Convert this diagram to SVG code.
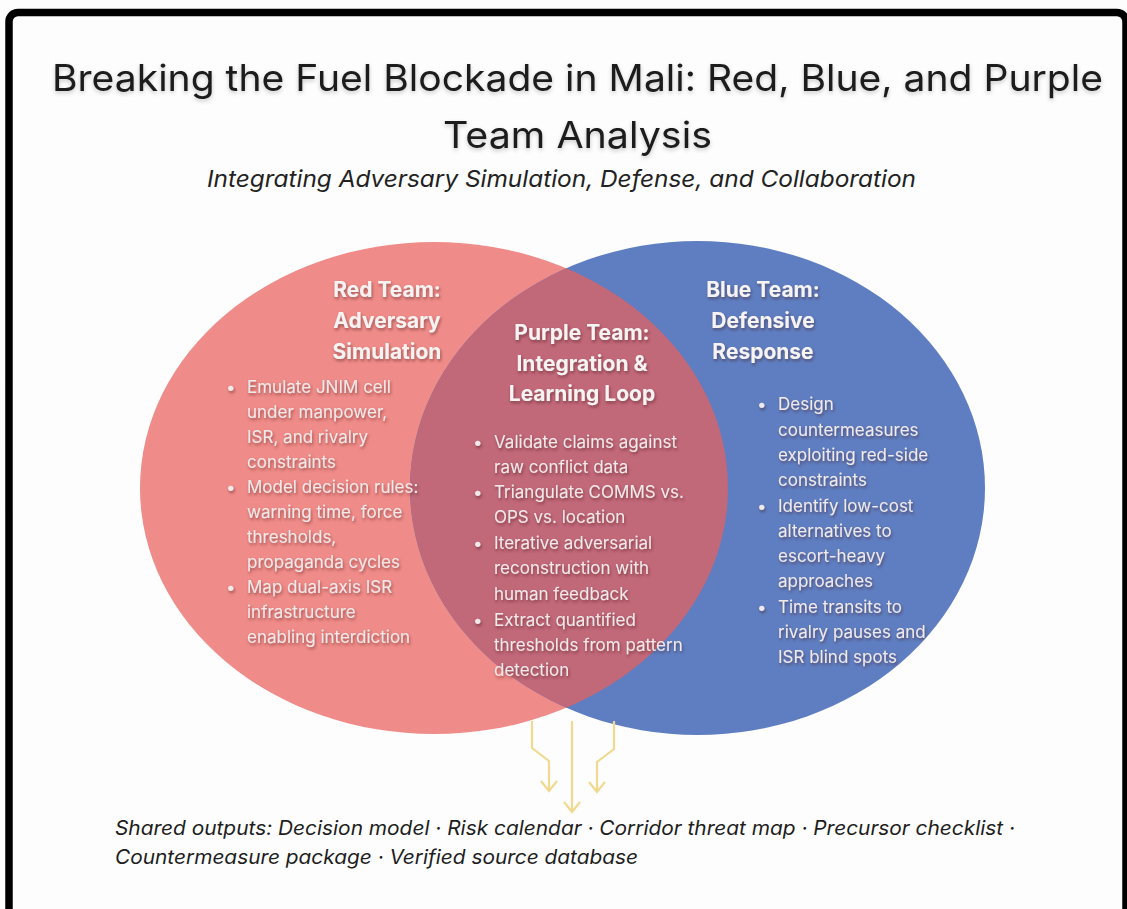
<svg xmlns="http://www.w3.org/2000/svg" width="1127" height="909" viewBox="0 0 1127 909">
  <defs>
    <style>
      .title { font-family: Inter, "Liberation Sans", sans-serif; font-size: 37px; fill: #1a1a1a; }
      .subtitle { font-family: Inter, "Liberation Sans", sans-serif; font-size: 23.5px; font-style: italic; fill: #222; }
      .head { font-family: Inter, "Liberation Sans", sans-serif; font-size: 21px; font-weight: 700; fill: #f7f3f3; text-anchor: middle; }
      .body { font-family: Inter, "Liberation Sans", sans-serif; font-size: 17px; fill: #f1e9ea; }
      .outputs { font-family: Inter, "Liberation Sans", sans-serif; font-size: 20px; font-style: italic; fill: #1e1e1e; }
      .arrow { fill: none; stroke: #f1d990; stroke-width: 2.2; stroke-linejoin: miter; stroke-linecap: butt; }
    </style>
    <filter id="txtShadow" x="-10%" y="-30%" width="120%" height="160%">
      <feDropShadow dx="1" dy="2" stdDeviation="1.4" flood-color="#3a1a1a" flood-opacity="0.45"/>
    </filter>
    <filter id="titleShadow" x="-5%" y="-30%" width="110%" height="160%">
      <feDropShadow dx="0" dy="2" stdDeviation="2" flood-color="#000" flood-opacity="0.22"/>
    </filter>
    <clipPath id="redClip">
      <ellipse cx="434" cy="488" rx="294" ry="246"/>
    </clipPath>
    <clipPath id="blueClip">
      <ellipse cx="697.5" cy="488" rx="287.5" ry="247"/>
    </clipPath>
    <!-- open V arrowhead; +x is the path direction -->
    <marker id="openHead" viewBox="0 0 20 20" refX="18" refY="10" markerWidth="20" markerHeight="20" markerUnits="userSpaceOnUse" orient="auto">
      <path d="M8,2 L18,10 L8,18" fill="none" stroke="#f1d990" stroke-width="2.2"/>
    </marker>
  </defs>

  <!-- page and frame -->
  <rect x="0" y="0" width="1127" height="909" fill="#fdfdfd"/>
  <rect x="9" y="12.5" width="1117" height="960" rx="9" fill="none" stroke="#000" stroke-width="7.5"/>

  <!-- heading -->
  <g id="title" filter="url(#titleShadow)">
    <text class="title" x="52" y="91" textLength="1051" lengthAdjust="spacingAndGlyphs">Breaking the Fuel Blockade in Mali: Red, Blue, and Purple</text>
    <text class="title" x="443" y="148" textLength="269" lengthAdjust="spacingAndGlyphs">Team Analysis</text>
  </g>
  <text id="subtitle" class="subtitle" x="207" y="187" textLength="709" lengthAdjust="spacingAndGlyphs">Integrating Adversary Simulation, Defense, and Collaboration</text>

  <!-- circles -->
  <g id="circles">
    <ellipse cx="434" cy="488" rx="294" ry="246" fill="#ef8b88"/>
    <ellipse cx="697.5" cy="488" rx="287.5" ry="247" fill="#5f7ec1"/>
    <ellipse cx="697.5" cy="488" rx="287.5" ry="247" fill="#c16879" clip-path="url(#redClip)"/>
  </g>

  <!-- red team -->
  <g id="red-team">
    <g filter="url(#txtShadow)">
      <text class="head" x="387" y="297">Red Team:</text>
      <text class="head" x="387" y="328">Adversary</text>
      <text class="head" x="387" y="359">Simulation</text>
    </g>
    <g class="body" filter="url(#txtShadow)">
      <text x="226" y="393">•</text>
      <text x="247" y="393">Emulate JNIM cell</text>
      <text x="247" y="418">under manpower,</text>
      <text x="247" y="443">ISR, and rivalry</text>
      <text x="247" y="468">constraints</text>
      <text x="226" y="493">•</text>
      <text x="247" y="493">Model decision rules:</text>
      <text x="247" y="518">warning time, force</text>
      <text x="247" y="543">thresholds,</text>
      <text x="247" y="568">propaganda cycles</text>
      <text x="226" y="593">•</text>
      <text x="247" y="593">Map dual-axis ISR</text>
      <text x="247" y="618">infrastructure</text>
      <text x="247" y="643">enabling interdiction</text>
    </g>
  </g>

  <!-- purple team -->
  <g id="purple-team">
    <g filter="url(#txtShadow)">
      <text class="head" x="582" y="340">Purple Team:</text>
      <text class="head" x="582" y="371">Integration &amp;</text>
      <text class="head" x="582" y="401">Learning Loop</text>
    </g>
    <g class="body" filter="url(#txtShadow)">
      <text x="473" y="448">•</text>
      <text x="494" y="448">Validate claims against</text>
      <text x="494" y="473">raw conflict data</text>
      <text x="473" y="498">•</text>
      <text x="494" y="498">Triangulate COMMS vs.</text>
      <text x="494" y="523">OPS vs. location</text>
      <text x="473" y="549">•</text>
      <text x="494" y="549">Iterative adversarial</text>
      <text x="494" y="574">reconstruction with</text>
      <text x="494" y="600">human feedback</text>
      <text x="473" y="626">•</text>
      <text x="494" y="626">Extract quantified</text>
      <text x="494" y="651">thresholds from pattern</text>
      <text x="494" y="676">detection</text>
    </g>
  </g>

  <!-- blue team -->
  <g id="blue-team">
    <g filter="url(#txtShadow)">
      <text class="head" x="763" y="297">Blue Team:</text>
      <text class="head" x="763" y="328">Defensive</text>
      <text class="head" x="763" y="359">Response</text>
    </g>
    <g clip-path="url(#blueClip)">
      <g class="body" filter="url(#txtShadow)">
        <text x="757" y="410">•</text>
        <text x="778" y="410">Design</text>
        <text x="778" y="436">countermeasures</text>
        <text x="778" y="461">exploiting red-side</text>
        <text x="778" y="486">constraints</text>
        <text x="757" y="512">•</text>
        <text x="778" y="512">Identify low-cost</text>
        <text x="778" y="537">alternatives to</text>
        <text x="778" y="562">escort-heavy</text>
        <text x="778" y="587">approaches</text>
        <text x="757" y="613">•</text>
        <text x="778" y="613">Time transits to</text>
        <text x="778" y="638">rivalry pauses and</text>
        <text x="778" y="663">ISR blind spots</text>
      </g>
    </g>
  </g>

  <!-- arrows to shared outputs -->
  <g id="connectors">
    <path class="arrow" d="M532,721 L532,748 L549,761 L549,791" marker-end="url(#openHead)"/>
    <path class="arrow" d="M572,721 L572,812" marker-end="url(#openHead)"/>
    <path class="arrow" d="M614,721 L614,749 L597,762 L597,792" marker-end="url(#openHead)"/>
  </g>

  <!-- shared outputs -->
  <g id="outputs">
    <text class="outputs" x="115" y="835" textLength="900" lengthAdjust="spacingAndGlyphs">Shared outputs: Decision model · Risk calendar · Corridor threat map · Precursor checklist ·</text>
    <text class="outputs" x="115" y="864" textLength="523" lengthAdjust="spacingAndGlyphs">Countermeasure package · Verified source database</text>
  </g>
</svg>
